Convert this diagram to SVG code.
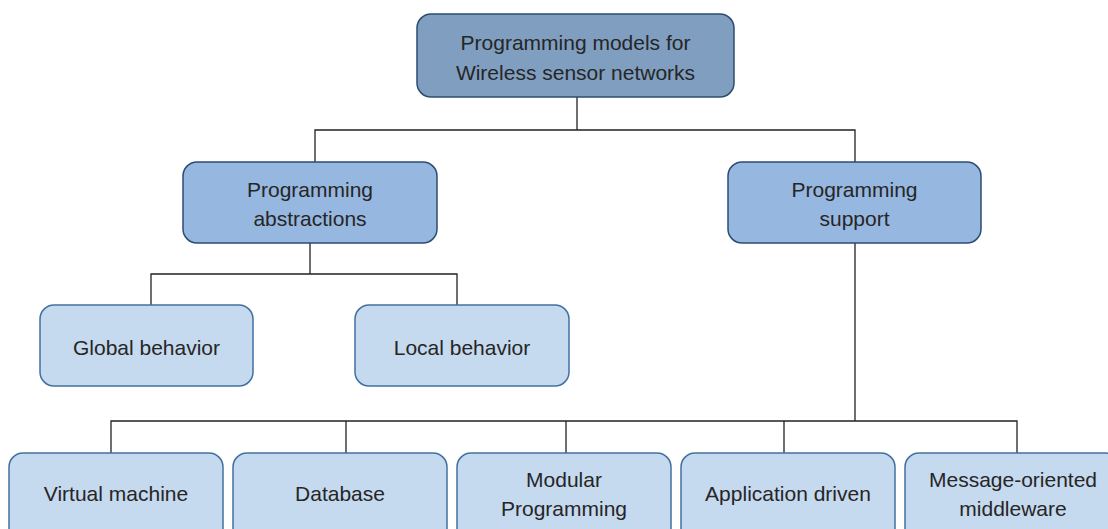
<svg xmlns="http://www.w3.org/2000/svg" width="1108" height="529" viewBox="0 0 1108 529">
<style>
.box{stroke:#41709F;stroke-width:1.5}
.l0{fill:#7F9EC0;stroke:#2D4C70}
.l1{fill:#96B7E0;stroke:#2D4C70}
.l2{fill:#C5D9EF}
text{font-family:"Liberation Sans",Arial,sans-serif;font-size:21px;fill:#262626;text-anchor:middle}
.c{fill:none;stroke:#222;stroke-width:1.3}
</style>
<rect width="1108" height="529" fill="#fff"/>
<g id="connectors">
<path class="c" d="M577 97V130M315 162V130H855V162"/>
<path class="c" d="M310 243V274M151 305V274H457V305"/>
<path class="c" d="M855 243V421M111 453V421H1017V453M346 421V453M566 421V453M784 421V453"/>
</g>
<g id="root"><rect class="box l0" x="417" y="14" width="317" height="83" rx="14"/><text x="575.5" y="50">Programming models for</text><text x="575.5" y="80">Wireless sensor networks</text></g>
<g id="abstractions"><rect class="box l1" x="183" y="162" width="254" height="81" rx="14"/><text x="310" y="197">Programming</text><text x="310" y="226">abstractions</text></g>
<g id="support"><rect class="box l1" x="728" y="162" width="253" height="81" rx="14"/><text x="854.5" y="197">Programming</text><text x="854.5" y="226">support</text></g>
<g id="global"><rect class="box l2" x="40" y="305" width="213" height="81" rx="14"/><text x="146.5" y="355">Global behavior</text></g>
<g id="local"><rect class="box l2" x="355" y="305" width="214" height="81" rx="14"/><text x="462" y="355">Local behavior</text></g>
<g id="vm"><rect class="box l2" x="9" y="453" width="214" height="90" rx="14"/><text x="116" y="501">Virtual machine</text></g>
<g id="db"><rect class="box l2" x="233" y="453" width="214" height="90" rx="14"/><text x="340" y="501">Database</text></g>
<g id="modular"><rect class="box l2" x="457" y="453" width="214" height="90" rx="14"/><text x="564" y="487">Modular</text><text x="564" y="516">Programming</text></g>
<g id="app"><rect class="box l2" x="681" y="453" width="214" height="90" rx="14"/><text x="788" y="501">Application driven</text></g>
<g id="mom"><rect class="box l2" x="905" y="453" width="214" height="90" rx="14"/><text x="1013" y="487">Message-oriented</text><text x="1013" y="516">middleware</text></g>
</svg>
